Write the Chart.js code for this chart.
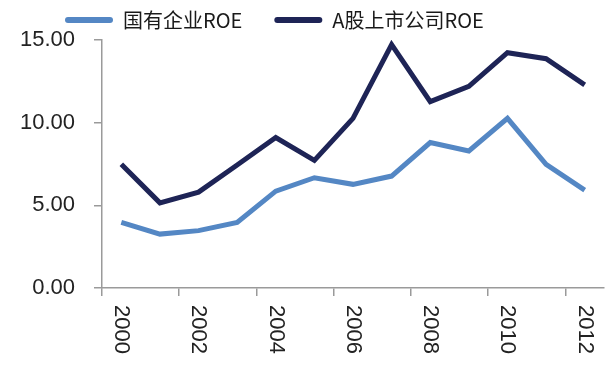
<!DOCTYPE html>
<html>
<head>
<meta charset="utf-8">
<script src="https://cdn.jsdelivr.net/npm/chart.js@4/dist/chart.umd.min.js"></script>
<style>
  html, body { margin: 0; padding: 0; background: #fff; }
  #wrap { width: 608px; height: 366px; }
</style>
</head>
<body>
<div id="wrap"><canvas id="roeChart"></canvas></div>
<script>
// years on the x axis, only every other one gets a label
const years = ['2000', '2001', '2002', '2003', '2004', '2005', '2006', '2007', '2008', '2009', '2010', '2011', '2012'];
const soeROE = [3.97, 3.26, 3.47, 3.97, 5.86, 6.67, 6.27, 6.77, 8.80, 8.29, 10.26, 7.48, 5.92];
const listedROE = [7.48, 5.15, 5.80, 7.44, 9.10, 7.72, 10.26, 14.72, 11.27, 12.20, 14.23, 13.87, 12.29];
const yTicks = [0, 5, 10, 15];

const lightBlue = '#5487C4';
const navy = '#1E2456';
const labelFont = '22px "Liberation Sans", Arial, sans-serif';

// axis labels drawn by hand: x labels read top-to-bottom (clockwise), and the
// y labels hang further left than the scale box, where Chart.js would clip them
const axisLabels = {
    id: 'axisLabels',
    afterDraw(chart) {
        const ctx = chart.ctx;
        const xScale = chart.scales.x;
        const yScale = chart.scales.y;
        ctx.save();
        ctx.font = labelFont;
        ctx.fillStyle = '#222';

        ctx.textAlign = 'right';
        ctx.textBaseline = 'middle';
        yScale.ticks.forEach(t => {
            ctx.fillText(t.value.toFixed(2), yScale.right - 27, yScale.getPixelForValue(t.value));
        });

        ctx.textAlign = 'left';
        years.forEach((yr, i) => {
            if (i % 2 !== 0) return;
            const x = xScale.getPixelForTick(i);
            ctx.save();
            ctx.translate(x, xScale.top + 17);
            ctx.rotate(Math.PI / 2);
            ctx.fillText(yr, 0, 0);
            ctx.restore();
        });
        ctx.restore();
    }
};

const ctx = document.getElementById('roeChart').getContext('2d');
const roeChart = new Chart(ctx, {
    type: 'line',
    data: {
        labels: years,
        datasets: [{
            label: '国有企业ROE',
            data: soeROE,
            borderColor: lightBlue,
            backgroundColor: lightBlue,
            borderWidth: 5,
            pointRadius: 0,
            tension: 0
        }, {
            label: 'A股上市公司ROE',
            data: listedROE,
            borderColor: navy,
            backgroundColor: navy,
            borderWidth: 5,
            pointRadius: 0,
            tension: 0
        }]
    },
    options: {
        responsive: true,
        maintainAspectRatio: false,
        animation: false,
        layout: {
            padding: { top: -22, left: 33, right: 4, bottom: 0 }
        },
        scales: {
            x: {
                offset: true,
                grid: {
                    offset: true,
                    drawOnChartArea: false,
                    drawTicks: true,
                    tickLength: 8,
                    tickColor: (c) => (c.index % 2 === 0 ? '#9a9a9a' : 'rgba(0,0,0,0)'),
                    lineWidth: 1.5
                },
                border: { color: '#9a9a9a', width: 1.5 },
                ticks: { display: false },
                afterFit: (scale) => { scale.height = 78; }
            },
            y: {
                min: 0,
                max: 15,
                afterBuildTicks: (scale) => { scale.ticks = yTicks.map(v => ({ value: v })); },
                grid: {
                    drawOnChartArea: false,
                    drawTicks: true,
                    tickLength: 8,
                    tickColor: '#9a9a9a',
                    lineWidth: 1.5
                },
                border: { color: '#9a9a9a', width: 1.5 },
                ticks: { display: false },
                afterFit: (scale) => { scale.width = 69; }
            }
        },
        plugins: {
            legend: {
                display: true,
                position: 'top',
                align: 'start',
                maxHeight: 63,
                labels: {
                    boxWidth: 48,
                    boxHeight: 6,
                    padding: 32,
                    color: '#1a1a1a',
                    font: { family: '"Noto Sans CJK SC", "Noto Sans", sans-serif', size: 20 },
                    generateLabels: (chart) => {
                        const items = Chart.defaults.plugins.legend.labels.generateLabels(chart);
                        items.forEach(it => { it.lineWidth = 0; it.borderRadius = 3; });
                        return items;
                    },
                    useBorderRadius: true,
                    borderRadius: 3
                }
            },
            tooltip: { enabled: false }
        }
    },
    plugins: [axisLabels]
});
</script>
</body>
</html>
